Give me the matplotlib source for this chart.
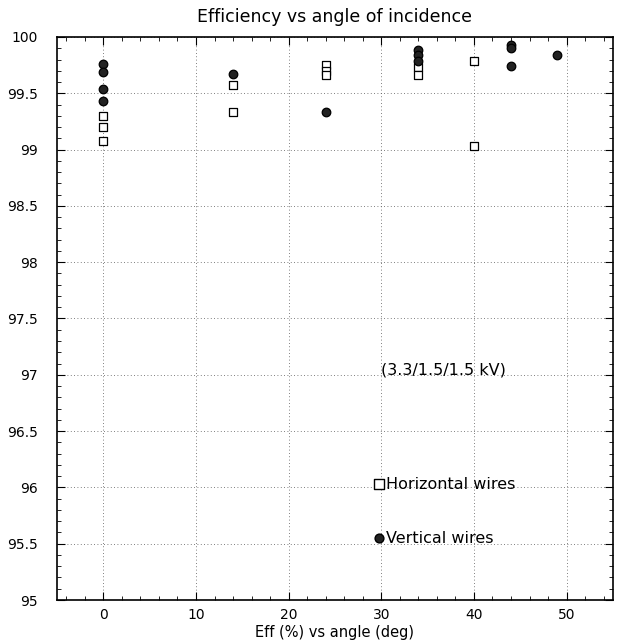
import matplotlib
matplotlib.use("Agg")
import matplotlib.pyplot as plt
from matplotlib.ticker import MultipleLocator

# Horizontal wires (open squares)
horiz_angle = [0, 0, 0, 14, 14, 24, 24, 24, 34, 34, 40, 40]
horiz_eff = [99.30, 99.20, 99.08, 99.57, 99.33, 99.75, 99.70, 99.66, 99.73, 99.66, 99.79, 99.03]

# Vertical wires (filled circles)
vert_angle = [0, 0, 0, 0, 14, 24, 34, 34, 34, 44, 44, 44, 49]
vert_eff = [99.76, 99.69, 99.54, 99.43, 99.67, 99.33, 99.88, 99.84, 99.79, 99.93, 99.90, 99.74, 99.84]

plt.rcParams["font.family"] = ["DejaVu Sans"]

fig = plt.figure(figsize=(6.17, 6.42), dpi=100)
ax = fig.add_axes([0.0924, 0.0654, 0.901, 0.877])

ax.scatter(horiz_angle, horiz_eff, marker="s", s=38, facecolors="white",
           edgecolors="black", linewidths=0.9, zorder=3)
ax.scatter(vert_angle, vert_eff, marker="o", s=38, facecolors="#222222",
           edgecolors="black", linewidths=0.9, zorder=3)

ax.set_xlim(-5, 55)
ax.set_ylim(95, 100)
ax.xaxis.set_major_locator(MultipleLocator(10))
ax.xaxis.set_minor_locator(MultipleLocator(2))
ax.yaxis.set_major_locator(MultipleLocator(0.5))
ax.yaxis.set_minor_locator(MultipleLocator(0.1))
ax.yaxis.set_major_formatter(plt.FuncFormatter(lambda v, p: f"{v:g}"))
ax.tick_params(which="both", direction="in", top=True, right=True, labelsize=10)
ax.tick_params(which="major", length=6)
ax.tick_params(which="minor", length=3)
ax.tick_params(axis="x", which="major", pad=6)
ax.tick_params(axis="y", which="major", pad=14)
ax.grid(True, which="major", linestyle=(0, (1, 3)), color="#555555", linewidth=0.6)

for s in ax.spines.values():
    s.set_linewidth(1.2)

ax.set_title("Efficiency vs angle of incidence", fontsize=12.5, pad=11)
ax.set_xlabel("Eff (%) vs angle (deg)", fontsize=10.5, labelpad=0)
ax.xaxis.set_label_coords(0.5, -0.044)

ax.text(30.0, 97.04, "(3.3/1.5/1.5 kV)", fontsize=11.5, va="center", ha="left")
ax.scatter([29.8], [96.03], marker="s", s=50, facecolors="white",
           edgecolors="black", linewidths=1.0, zorder=3)
ax.text(30.5, 96.03, "Horizontal wires", fontsize=11.5, va="center", ha="left")
ax.scatter([29.8], [95.55], marker="o", s=40, facecolors="#222222",
           edgecolors="black", linewidths=1.0, zorder=3)
ax.text(30.5, 95.55, "Vertical wires", fontsize=11.5, va="center", ha="left")

fig.savefig("out.png", dpi=100)
